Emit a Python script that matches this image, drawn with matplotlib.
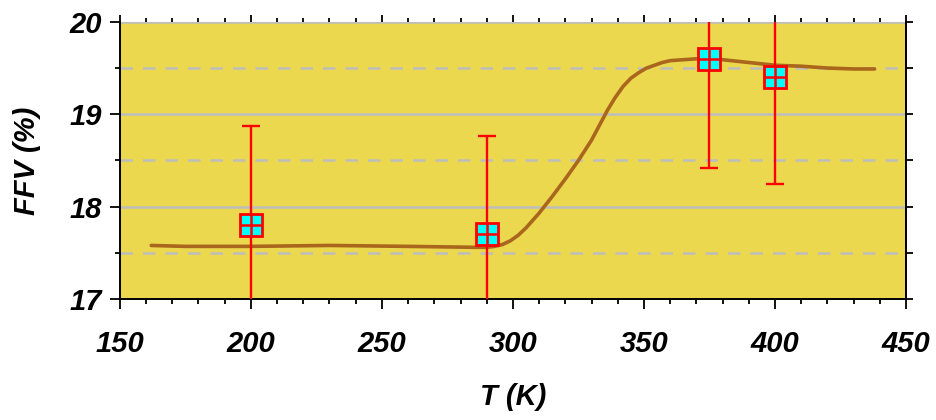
import numpy as np
import matplotlib.pyplot as plt
from matplotlib.ticker import MultipleLocator

# measured points with error bars
temps = [200, 290, 375, 400]
ffv = [17.80, 17.70, 19.60, 19.40]
ffv_err = [1.07, 1.06, 1.18, 1.16]

# fitted curve
curve_t = [162, 175, 200, 230, 260, 285, 290, 293, 296, 299, 302, 305, 310, 315, 320,
           325, 330, 333, 336, 339, 342, 345, 348, 351, 354, 357, 360, 365, 370, 380,
           390, 400, 410, 420, 430, 438]
curve_ffv = [17.58, 17.57, 17.57, 17.58, 17.57, 17.56, 17.56, 17.57, 17.59, 17.63,
             17.69, 17.77, 17.93, 18.11, 18.30, 18.50, 18.72, 18.88, 19.04, 19.18,
             19.30, 19.39, 19.45, 19.50, 19.53, 19.56, 19.58, 19.59, 19.60, 19.59,
             19.56, 19.53, 19.52, 19.50, 19.49, 19.49]

bg = '#ECD84E'
font = dict(family='Liberation Sans', weight='bold', style='italic')

fig = plt.figure(figsize=(9.36, 4.2), dpi=100)
ax = fig.add_axes([0.128, 0.288, 0.84, 0.66])
ax.set_facecolor(bg)

for y in [18, 19, 20]:
    ax.axhline(y, color='#BDBDBD', lw=1.8, zorder=1)
for y in [17.5, 18.5, 19.5]:
    ax.axhline(y, color='#BDBDBD', lw=1.8, ls=(0, (5, 4)), zorder=1)

ax.plot(curve_t, curve_ffv, color='#A9661C', lw=2.6, zorder=3,
        solid_joinstyle='round', solid_capstyle='round')

ax.errorbar(temps, ffv, yerr=ffv_err, fmt='none', ecolor='#FF0000', elinewidth=1.7,
            capsize=6.5, capthick=1.7, zorder=4)
ax.plot(temps, ffv, ls='none', marker='s', ms=15.5, mfc='#00FFFF', mec='#FF0000',
        mew=2, zorder=5)
ax.plot(temps, ffv, ls='none', marker='+', ms=15.5, mec='#FF0000', mew=1.8, zorder=6)

ax.set_xlim(150, 450)
ax.set_ylim(17, 20)
ax.xaxis.set_major_locator(MultipleLocator(50))
ax.xaxis.set_minor_locator(MultipleLocator(10))
ax.yaxis.set_major_locator(MultipleLocator(1))
ax.yaxis.set_minor_locator(MultipleLocator(0.5))

ax.spines['top'].set_visible(False)
for s in ['left', 'right', 'bottom']:
    ax.spines[s].set_linewidth(1.4)

ax.tick_params(which='major', direction='out', length=7, width=1.3)
ax.tick_params(which='minor', direction='out', length=3.6, width=1.3)
ax.tick_params(axis='x', which='major', pad=15)
ax.tick_params(axis='y', which='major', pad=6)
ax.set_xticks(ax.get_xticks())
ax.set_xticklabels([f'{int(v)}' for v in ax.get_xticks()], fontsize=21, **font)
ax.set_yticks(ax.get_yticks())
ax.set_yticklabels([f'{int(v)}' for v in ax.get_yticks()], fontsize=21, **font)
ax.set_xlim(150, 450)
ax.set_ylim(17, 20)

top = ax.secondary_xaxis('top')
top.xaxis.set_major_locator(MultipleLocator(50))
top.xaxis.set_minor_locator(MultipleLocator(10))
top.tick_params(which='major', direction='out', length=5, width=1.3, labeltop=False)
top.tick_params(which='minor', direction='out', length=3.2, width=1.3)
top.spines['top'].set_visible(False)

right = ax.secondary_yaxis('right')
right.yaxis.set_major_locator(MultipleLocator(0.5))
right.yaxis.set_minor_locator(MultipleLocator(0.5))
right.tick_params(which='major', direction='out', length=5, width=1.3, labelright=False)
right.spines['right'].set_linewidth(1.4)

ax.set_xlabel('T (K)', fontsize=21, labelpad=18, **font)
ax.set_ylabel('FFV (%)', fontsize=21, labelpad=20, **font)

fig.savefig('out.png', dpi=100)
